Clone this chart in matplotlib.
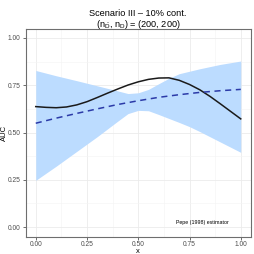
import matplotlib
matplotlib.use('Agg')
from matplotlib import pyplot as plt

plt.rcParams['font.family'] = ['Liberation Sans', 'DejaVu Sans']
plt.rcParams['mathtext.fontset'] = 'custom'
plt.rcParams['mathtext.rm'] = 'Liberation Sans'
plt.rcParams['mathtext.it'] = 'Liberation Sans'

# true AUC curve (solid)
x_true = [0.0, 0.05, 0.1, 0.15, 0.2, 0.25, 0.3, 0.35, 0.4, 0.45, 0.5,
          0.55, 0.6, 0.65, 0.7, 0.75, 0.8, 0.85, 0.9, 0.95, 1.0]
auc_true = [0.637, 0.633, 0.631, 0.635, 0.646, 0.663, 0.685, 0.708, 0.730, 0.751, 0.768,
            0.781, 0.788, 0.789, 0.776, 0.754, 0.726, 0.691, 0.652, 0.612, 0.572]

# mean estimate (dashed)
x_est = [0.0, 0.1, 0.2, 0.3, 0.4, 0.5, 0.6, 0.7, 0.8, 0.9, 1.0]
auc_est = [0.549, 0.576, 0.601, 0.625, 0.648, 0.668, 0.686, 0.700, 0.712, 0.721, 0.728]

# band
x_band = [0.0, 0.1, 0.2, 0.3, 0.4, 0.45, 0.5, 0.55, 0.6, 0.65, 0.7, 0.75, 0.8, 0.9, 1.0]
band_hi = [0.828, 0.800, 0.774, 0.747, 0.720, 0.706, 0.710, 0.728, 0.758, 0.787,
           0.811, 0.824, 0.837, 0.860, 0.878]
band_lo = [0.247, 0.322, 0.400, 0.478, 0.560, 0.600, 0.617, 0.615, 0.595, 0.574,
           0.553, 0.531, 0.505, 0.450, 0.395]

ticks = [0.0, 0.25, 0.5, 0.75, 1.0]
tick_labels = ['0.00', '0.25', '0.50', '0.75', '1.00']
minor = [0.125, 0.375, 0.625, 0.875]

fig = plt.figure(figsize=(2.54, 2.54), dpi=100)
ax = fig.add_axes([25.5 / 254, 17.5 / 254, 225.5 / 254, 208 / 254])

ax.fill_between(x_band, band_lo, band_hi, color='#bcdcff', lw=0, zorder=2)
ax.plot(x_true, auc_true, color='#1a1a1a', lw=1.1, zorder=3)
ax.plot(x_est, auc_est, color='#2b3aa8', lw=1.1, ls=(0, (4, 3)), zorder=4)

ax.set_xlim(-0.05, 1.05)
ax.set_ylim(-0.05, 1.05)
ax.set_xticks(ticks)
ax.set_xticklabels(tick_labels)
ax.set_yticks(ticks)
ax.set_yticklabels(tick_labels)
ax.set_xticks(minor, minor=True)
ax.set_yticks(minor, minor=True)
ax.grid(which='major', color='#ebebeb', lw=0.6, zorder=0)
ax.grid(which='minor', color='#f4f4f4', lw=0.4, zorder=0)
ax.set_axisbelow(True)
ax.tick_params(which='major', length=2, width=0.5, color='#333333',
               labelsize=4.8, labelcolor='#4d4d4d', pad=1.5)
ax.tick_params(which='minor', length=0)
for s in ax.spines.values():
    s.set_color('#6e6e6e')
    s.set_linewidth(0.8)

ax.set_xlabel('x', fontsize=5.5)
ax.set_ylabel('AUC', fontsize=5.5)
ax.xaxis.set_label_coords(0.5, -0.055)
ax.yaxis.set_label_coords(-0.078, 0.5)

ax.text(0.815, 0.023, 'Pepe (1998) estimator', fontsize=3.8, ha='center', va='center', zorder=5)

fig.text(138 / 254, 1 - 14 / 254, 'Scenario III \u2013 10% cont.', fontsize=6.6,
         ha='center', va='center')
fig.text(138 / 254, 1 - 24.5 / 254, r'($\mathregular{n_{\bar{D}}}$, $\mathregular{n_D}$) = (200, 200)',
         fontsize=6.6, ha='center', va='center')

fig.savefig('out.png', dpi=100)
